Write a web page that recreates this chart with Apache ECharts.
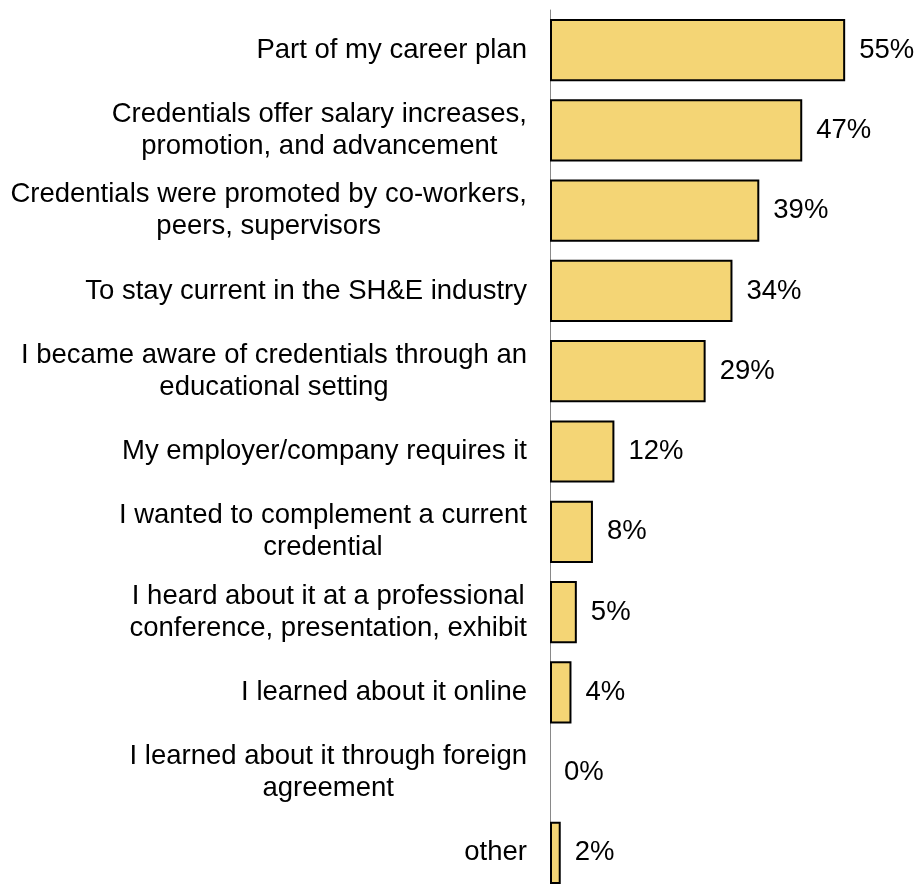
<!DOCTYPE html>
<html>
<head>
<meta charset="utf-8">
<script src="https://cdn.jsdelivr.net/npm/echarts@6/dist/echarts.min.js"></script>
<style>
  html, body { margin: 0; padding: 0; background: #fff; overflow: hidden; }
  #chart { width: 917px; height: 900px; }
</style>
</head>
<body>
<div id="chart"></div>
<script>
// Reasons for pursuing credentials (share of respondents, %)
const categories = [
  'Part of my career plan',
  'Credentials offer salary increases,\npromotion, and advancement',
  'Credentials were promoted by co-workers,\npeers, supervisors',
  'To stay current in the SH&E industry',
  'I became aware of credentials through an\neducational setting',
  'My employer/company requires it',
  'I wanted to complement a current\ncredential',
  'I heard about it at a professional\nconference, presentation, exhibit',
  'I learned about it online',
  'I learned about it through foreign\nagreement',
  'other'
];
const values = [55, 47, 39, 34, 29, 12, 8, 5, 4, 0, 2];

// Center each line of a multi-line label within its block
const richLabel = s => s.split('\n').map(l => '{c|' + l + '}').join('\n');

// Zero-length bars get no outline
const barData = values.map(v => v === 0
  ? { value: v, itemStyle: { borderWidth: 0 } }
  : v);

const chart = echarts.init(document.getElementById('chart'));
chart.setOption({
  animation: false,
  textStyle: { fontFamily: 'Liberation Sans, Arial, sans-serif' },
  grid: { left: 550, top: 10, width: 322, height: 883, containLabel: false },
  xAxis: {
    type: 'value', min: 0, max: 60, show: false
  },
  yAxis: {
    type: 'category',
    data: categories,
    inverse: true,
    axisLine: { show: true, lineStyle: { color: '#898989', width: 1 } },
    axisTick: { show: false },
    axisLabel: {
      margin: 23,
      align: 'right',
      color: '#000',
      fontSize: 27.5,
      lineHeight: 32,
      formatter: v => richLabel(v),
      rich: { c: { align: 'center', fontSize: 27.5, lineHeight: 32, color: '#000' } }
    }
  },
  series: [{
    type: 'bar',
    data: barData,
    barCategoryGap: '22.5%',
    itemStyle: { color: '#F4D575', borderColor: '#000', borderWidth: 2 },
    label: {
      show: true,
      position: 'right',
      distance: 14,
      color: '#000',
      fontSize: 27.5,
      formatter: p => p.value + '%'
    }
  }]
});
</script>
</body>
</html>
